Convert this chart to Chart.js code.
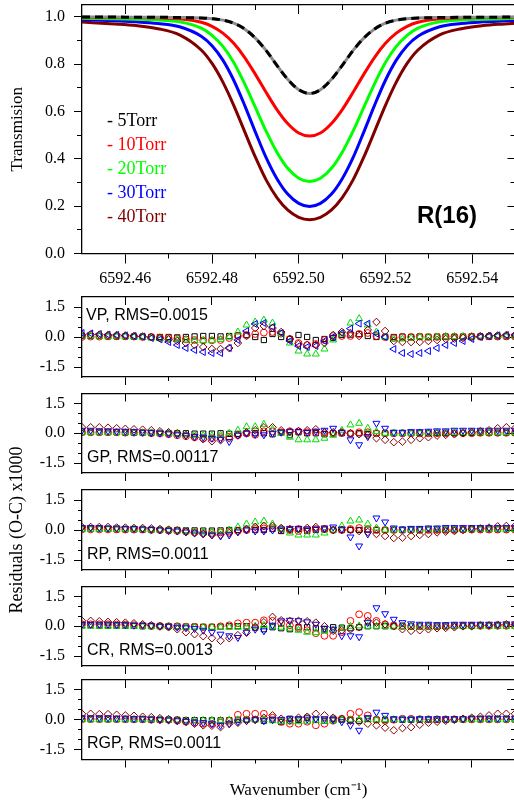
<!DOCTYPE html>
<html>
<head>
<meta charset="utf-8">
<script src="https://cdn.jsdelivr.net/npm/chart.js@4.4.1/dist/chart.umd.min.js"></script>
<style>
  html, body { margin: 0; padding: 0; background: #fff; overflow: hidden; }
  #wrap { position: relative; width: 514px; height: 801px; overflow: hidden; background: #fff; }
  #wrap canvas { position: absolute; left: 0; top: 0; }
</style>
</head>
<body>
<div id="wrap">
  <canvas id="spec" width="520" height="801"></canvas>
  <canvas id="vp" width="520" height="801"></canvas>
  <canvas id="gp" width="520" height="801"></canvas>
  <canvas id="rp" width="520" height="801"></canvas>
  <canvas id="cr" width="520" height="801"></canvas>
  <canvas id="rgp" width="520" height="801"></canvas>
</div>
<script>
// ---- transmission spectra, R(16) line ----
const nuCurve = [6592.4500, 6592.4575, 6592.4625, 6592.4675, 6592.4725, 6592.4775, 6592.4800,
  6592.4825, 6592.4850, 6592.4875, 6592.4900, 6592.4925, 6592.4950, 6592.4975, 6592.5000,
  6592.5025, 6592.5050, 6592.5075, 6592.5100, 6592.5125, 6592.5150, 6592.5175, 6592.5200,
  6592.5225, 6592.5250, 6592.5275, 6592.5325, 6592.5375, 6592.5425, 6592.5475, 6592.5500];
const trans5 = [0.999, 0.999, 0.998, 0.998, 0.997, 0.995, 0.992, 0.986, 0.973, 0.949, 0.910,
  0.857, 0.794, 0.735, 0.692, 0.676, 0.692, 0.735, 0.794, 0.857, 0.910, 0.949, 0.973, 0.986,
  0.992, 0.995, 0.997, 0.998, 0.998, 0.999, 0.999];
const trans10 = [0.998, 0.997, 0.997, 0.996, 0.992, 0.977, 0.960, 0.931, 0.888, 0.829, 0.757,
  0.680, 0.607, 0.548, 0.509, 0.496, 0.509, 0.548, 0.607, 0.680, 0.757, 0.829, 0.888, 0.931,
  0.960, 0.977, 0.992, 0.996, 0.997, 0.997, 0.998];
const trans20 = [0.994, 0.992, 0.990, 0.987, 0.979, 0.952, 0.922, 0.875, 0.807, 0.718, 0.617,
  0.516, 0.427, 0.359, 0.318, 0.304, 0.318, 0.359, 0.427, 0.516, 0.617, 0.718, 0.807, 0.875,
  0.922, 0.952, 0.979, 0.987, 0.990, 0.992, 0.993];
const trans30 = [0.988, 0.983, 0.979, 0.972, 0.958, 0.918, 0.878, 0.817, 0.732, 0.627, 0.513,
  0.404, 0.315, 0.250, 0.212, 0.199, 0.212, 0.250, 0.315, 0.404, 0.513, 0.627, 0.732, 0.817,
  0.878, 0.918, 0.958, 0.972, 0.979, 0.983, 0.985];
const trans40 = [0.978, 0.970, 0.963, 0.950, 0.924, 0.860, 0.803, 0.724, 0.626, 0.516, 0.407,
  0.310, 0.235, 0.183, 0.153, 0.143, 0.153, 0.183, 0.235, 0.310, 0.407, 0.516, 0.626, 0.724,
  0.803, 0.860, 0.924, 0.950, 0.963, 0.970, 0.973];
const pressures = ['- 5Torr', '- 10Torr', '- 20Torr', '- 30Torr', '- 40Torr'];
const lineColors = ['#000000', '#ff0000', '#00ff00', '#0000ff', '#800000'];

// ---- residuals (O-C) x1000, sampled every 0.002 cm-1 ----
const nuRes = [6592.450, 6592.452, 6592.454, 6592.456, 6592.458, 6592.460, 6592.462, 6592.464,
  6592.466, 6592.468, 6592.470, 6592.472, 6592.474, 6592.476, 6592.478, 6592.480, 6592.482,
  6592.484, 6592.486, 6592.488, 6592.490, 6592.492, 6592.494, 6592.496, 6592.498, 6592.500,
  6592.502, 6592.504, 6592.506, 6592.508, 6592.510, 6592.512, 6592.514, 6592.516, 6592.518,
  6592.520, 6592.522, 6592.524, 6592.526, 6592.528, 6592.530, 6592.532, 6592.534, 6592.536,
  6592.538, 6592.540, 6592.542, 6592.544, 6592.546, 6592.548, 6592.550];

const vp5 = [0.05, 0.05, 0.05, 0.03, 0.03, 0.03, 0.02, 0.02, 0.00, 0.00, 0.00,
  -0.02, 0.00, 0.03, 0.05, 0.05, 0.03, 0.05, 0.08, 0.10, 0.00,
  -0.15, 0.15, 0.00, -0.10, 0.10, 0.00, -0.15, -0.10, -0.05, 0.10,
  0.12, 0.15, 0.05, 0.00, 0.00, 0.00, 0.02, 0.00, 0.02, 0.00,
  0.02, 0.02, 0.00, 0.02, 0.03, 0.03, 0.02, 0.03, 0.03, 0.03];
const vp10 = [0.00, 0.02, 0.02, 0.03, 0.03, 0.03, 0.02, 0.00, 0.00, -0.03, -0.05,
  -0.08, -0.12, -0.15, -0.17, -0.17, -0.15, -0.05, 0.05, 0.10, 0.15,
  0.22, 0.25, 0.17, -0.10, -0.30, -0.40, -0.35, -0.15, 0.05, 0.05,
  0.05, 0.15, 0.20, 0.05, 0.00, -0.05, 0.00, 0.00, 0.02, 0.00,
  0.00, 0.02, 0.02, 0.00, 0.02, 0.02, 0.03, 0.02, 0.03, 0.03];
const vp20 = [0.05, 0.05, 0.04, 0.03, 0.03, 0.02, 0.00, -0.02, -0.05, -0.08, -0.10,
  -0.12, -0.15, -0.17, -0.18, -0.17, -0.12, 0.00, 0.25, 0.60, 0.75,
  0.85, 0.70, 0.15, -0.30, -0.70, -0.85, -0.85, -0.60, -0.15, 0.15,
  0.70, 0.92, 0.60, 0.25, 0.00, -0.10, -0.10, -0.05, 0.00, 0.00,
  0.00, 0.02, 0.02, 0.03, 0.03, 0.05, 0.05, 0.05, 0.05, 0.05];
const vp30 = [0.20, 0.18, 0.15, 0.12, 0.10, 0.08, 0.05, 0.02, -0.05, -0.12, -0.25,
  -0.40, -0.55, -0.65, -0.75, -0.80, -0.80, -0.55, -0.15, 0.30, 0.65,
  0.70, 0.50, 0.20, -0.20, -0.45, -0.50, -0.45, -0.20, 0.00, 0.20,
  0.42, 0.67, 0.67, 0.17, 0.00, -0.60, -0.80, -0.85, -0.80, -0.70,
  -0.55, -0.40, -0.30, -0.20, -0.10, 0.00, 0.05, 0.08, 0.10, 0.12];
const vp40 = [0.10, 0.12, 0.12, 0.10, 0.10, 0.08, 0.05, 0.03, 0.00, -0.05, -0.12,
  -0.20, -0.30, -0.40, -0.50, -0.60, -0.60, -0.55, -0.30, 0.05, 0.45,
  0.55, 0.45, 0.25, -0.10, -0.35, -0.40, -0.40, -0.30, 0.10, 0.25,
  0.20, 0.05, 0.35, 0.75, 0.30, -0.20, -0.25, -0.25, -0.25, -0.20,
  -0.15, -0.10, -0.08, -0.05, 0.00, 0.03, 0.05, 0.08, 0.10, 0.10];

const gp5 = [0.05, 0.05, 0.05, 0.05, 0.05, 0.03, 0.03, 0.03, 0.02, 0.00, 0.00,
  0.00, 0.00, -0.02, -0.02, -0.02, 0.00, -0.03, -0.03, 0.00, 0.00,
  0.00, -0.05, 0.05, -0.10, 0.05, 0.00, 0.00, -0.05, 0.00, 0.00,
  -0.02, 0.00, -0.05, 0.00, 0.00, 0.00, 0.00, 0.00, 0.00, 0.00,
  0.02, 0.02, 0.02, 0.02, 0.02, 0.03, 0.03, 0.03, 0.03, 0.03];
const gp10 = [0.05, 0.05, 0.05, 0.05, 0.05, 0.03, 0.03, 0.03, 0.00, 0.00, -0.05,
  -0.10, -0.15, -0.20, -0.25, -0.25, -0.20, -0.17, -0.10, 0.00, -0.08,
  0.10, 0.10, 0.05, 0.10, 0.10, 0.05, 0.05, 0.00, 0.00, 0.02,
  0.00, 0.05, 0.05, 0.00, 0.00, 0.00, 0.00, 0.00, 0.00, 0.00,
  0.00, 0.00, 0.00, 0.00, 0.00, 0.02, 0.02, 0.02, 0.02, 0.02];
const gp20 = [0.05, 0.05, 0.05, 0.04, 0.04, 0.03, 0.03, 0.02, 0.02, 0.00, 0.00,
  -0.05, -0.08, -0.10, -0.12, -0.12, -0.10, 0.00, 0.15, 0.33, 0.33,
  0.45, 0.20, 0.00, -0.20, -0.33, -0.33, -0.33, -0.25, -0.10, 0.15,
  0.42, 0.50, 0.25, 0.08, 0.00, 0.00, 0.00, 0.00, 0.02, 0.02,
  0.02, 0.02, 0.02, 0.03, 0.03, 0.03, 0.03, 0.03, 0.03, 0.03];
const gp30 = [0.15, 0.15, 0.12, 0.12, 0.10, 0.10, 0.08, 0.05, 0.03, 0.00, -0.03,
  -0.08, -0.12, -0.17, -0.20, -0.25, -0.30, -0.42, -0.10, 0.00, -0.05,
  -0.08, 0.00, 0.05, 0.08, 0.08, 0.05, 0.10, 0.15, 0.25, 0.05,
  -0.33, -0.58, -0.17, 0.50, 0.25, 0.05, 0.05, 0.08, 0.08, 0.10,
  0.12, 0.12, 0.15, 0.15, 0.15, 0.15, 0.15, 0.15, 0.15, 0.15];
const gp40 = [0.30, 0.30, 0.30, 0.28, 0.25, 0.22, 0.20, 0.18, 0.15, 0.10, 0.05,
  0.00, -0.10, -0.20, -0.30, -0.40, -0.35, -0.25, -0.10, 0.05, 0.15,
  0.30, 0.30, 0.15, 0.08, 0.10, 0.15, 0.20, 0.05, 0.05, 0.05,
  0.00, -0.05, -0.10, -0.25, -0.33, -0.45, -0.42, -0.33, -0.25, -0.20,
  -0.12, -0.08, -0.05, 0.00, 0.05, 0.10, 0.15, 0.25, 0.30, 0.25];

const rp5 = [0.05, 0.05, 0.05, 0.05, 0.03, 0.03, 0.03, 0.02, 0.02, 0.00, 0.00,
  0.00, -0.02, -0.02, -0.03, -0.03, -0.02, 0.00, 0.00, 0.02, 0.00,
  0.00, 0.05, -0.05, 0.00, 0.05, -0.05, 0.00, 0.02, 0.00, 0.00,
  0.00, 0.00, 0.02, 0.00, 0.00, 0.00, 0.00, 0.00, 0.00, 0.02,
  0.02, 0.02, 0.02, 0.02, 0.03, 0.03, 0.03, 0.03, 0.03, 0.03];
const rp10 = [0.03, 0.03, 0.03, 0.03, 0.03, 0.02, 0.02, 0.02, 0.00, 0.00, -0.03,
  -0.05, -0.08, -0.12, -0.15, -0.15, -0.12, -0.08, -0.05, 0.00, 0.05,
  0.08, 0.10, 0.05, 0.00, -0.05, 0.00, 0.05, 0.05, 0.00, 0.00,
  0.05, 0.10, 0.05, 0.00, 0.00, 0.00, 0.00, 0.00, 0.00, 0.00,
  0.00, 0.00, 0.00, 0.02, 0.02, 0.02, 0.02, 0.02, 0.02, 0.02];
const rp20 = [0.03, 0.03, 0.03, 0.03, 0.03, 0.02, 0.02, 0.02, 0.00, 0.00, 0.00,
  -0.03, -0.05, -0.08, -0.10, -0.10, -0.08, 0.00, 0.15, 0.30, 0.40,
  0.45, 0.30, 0.05, -0.15, -0.25, -0.25, -0.25, -0.15, 0.00, 0.20,
  0.45, 0.50, 0.30, 0.10, 0.00, 0.00, 0.00, 0.00, 0.00, 0.02,
  0.02, 0.02, 0.02, 0.02, 0.03, 0.03, 0.03, 0.03, 0.03, 0.03];
const rp30 = [0.12, 0.12, 0.12, 0.10, 0.10, 0.08, 0.08, 0.05, 0.03, 0.00, -0.03,
  -0.05, -0.10, -0.15, -0.20, -0.25, -0.30, -0.25, -0.10, 0.00, -0.05,
  -0.05, 0.00, 0.05, 0.08, 0.08, 0.05, 0.05, 0.10, 0.15, 0.05,
  -0.35, -0.80, -0.20, 0.60, 0.40, 0.10, 0.05, 0.08, 0.08, 0.10,
  0.10, 0.12, 0.12, 0.12, 0.12, 0.12, 0.12, 0.12, 0.12, 0.12];
const rp40 = [0.15, 0.15, 0.15, 0.15, 0.12, 0.12, 0.10, 0.10, 0.08, 0.05, 0.02,
  -0.02, -0.08, -0.15, -0.20, -0.25, -0.25, -0.15, -0.05, 0.05, 0.15,
  0.20, 0.20, 0.10, 0.05, 0.05, 0.10, 0.15, 0.05, 0.00, 0.00,
  0.00, -0.05, -0.10, -0.20, -0.30, -0.40, -0.38, -0.30, -0.25, -0.20,
  -0.12, -0.08, -0.05, 0.00, 0.05, 0.08, 0.12, 0.18, 0.20, 0.20];

const cr5 = [0.05, 0.05, 0.03, 0.03, 0.03, 0.02, 0.02, 0.00, 0.00, 0.00, 0.00,
  0.00, -0.02, -0.02, -0.03, -0.03, -0.02, 0.00, 0.00, 0.00, -0.07,
  -0.15, -0.05, -0.10, -0.15, -0.05, -0.05, -0.10, -0.15, -0.05, -0.07,
  -0.10, -0.05, 0.00, 0.00, 0.00, 0.00, 0.00, 0.00, 0.00, 0.00,
  0.00, 0.02, 0.02, 0.02, 0.02, 0.02, 0.02, 0.02, 0.02, 0.02];
const cr10 = [0.10, 0.10, 0.10, 0.10, 0.08, 0.08, 0.05, 0.05, 0.03, 0.02, 0.00,
  0.00, -0.02, -0.03, -0.05, -0.05, 0.00, 0.05, 0.15, 0.18, 0.18,
  0.30, 0.27, 0.15, 0.05, -0.10, -0.20, -0.35, -0.48, -0.48, -0.30,
  0.27, 0.60, 0.52, 0.27, 0.10, 0.05, 0.02, 0.00, 0.00, 0.00,
  0.00, 0.00, 0.02, 0.02, 0.02, 0.02, 0.02, 0.02, 0.02, 0.02];
const cr20 = [0.00, 0.00, 0.00, 0.00, 0.00, 0.00, 0.00, 0.00, 0.00, 0.00, 0.00,
  -0.02, -0.05, -0.05, -0.05, -0.05, -0.05, -0.05, -0.05, -0.03, 0.00,
  0.05, 0.00, -0.05, -0.10, -0.20, -0.30, -0.32, -0.25, -0.20, -0.10,
  0.00, 0.02, 0.00, 0.00, 0.00, 0.00, 0.00, 0.00, 0.00, 0.00,
  0.00, 0.00, 0.00, 0.00, 0.00, 0.00, 0.00, 0.00, 0.00, 0.00];
const cr30 = [0.10, 0.10, 0.10, 0.10, 0.08, 0.08, 0.05, 0.05, 0.03, 0.00, 0.00,
  -0.05, -0.08, -0.12, -0.20, -0.30, -0.40, -0.48, -0.57, -0.30, -0.15,
  -0.23, 0.05, 0.27, 0.30, 0.28, 0.22, 0.10, -0.10, -0.15, -0.48,
  -0.48, -0.53, 0.18, 0.93, 0.63, 0.35, 0.18, 0.12, 0.10, 0.10,
  0.08, 0.08, 0.10, 0.10, 0.10, 0.10, 0.10, 0.10, 0.12, 0.12];
const cr40 = [0.27, 0.27, 0.25, 0.22, 0.20, 0.18, 0.15, 0.10, 0.05, 0.00, -0.05,
  -0.15, -0.30, -0.40, -0.50, -0.60, -0.73, -0.60, -0.45, -0.32, -0.05,
  0.20, 0.47, 0.30, 0.27, 0.27, 0.25, 0.18, 0.00, -0.23, -0.20,
  -0.15, -0.05, 0.27, 0.18, 0.10, 0.00, -0.15, -0.23, -0.20, -0.15,
  -0.10, -0.08, -0.05, 0.00, 0.00, 0.05, 0.05, 0.08, 0.10, 0.10];

const rgp5 = [0.03, 0.03, 0.03, 0.03, 0.03, 0.02, 0.02, 0.02, 0.00, 0.00, 0.00,
  0.00, -0.02, -0.02, -0.02, -0.03, -0.03, -0.02, 0.00, 0.00, 0.02,
  -0.05, 0.00, -0.12, 0.05, 0.00, 0.10, 0.00, -0.05, 0.05, 0.00,
  0.00, -0.05, 0.05, 0.00, 0.00, 0.00, 0.00, 0.00, 0.00, 0.00,
  0.00, 0.00, 0.02, 0.02, 0.02, 0.02, 0.02, 0.02, 0.02, 0.02];
const rgp10 = [0.03, 0.03, 0.03, 0.03, 0.03, 0.03, 0.02, 0.02, 0.00, 0.00, 0.00,
  -0.05, -0.10, -0.15, -0.20, -0.20, -0.15, -0.05, 0.25, 0.30, 0.30,
  0.30, 0.10, -0.10, -0.20, -0.20, -0.10, -0.28, -0.20, -0.05, 0.05,
  0.30, 0.38, 0.22, 0.00, -0.05, 0.00, 0.05, 0.05, 0.03, 0.02,
  0.02, 0.02, 0.02, 0.02, 0.02, 0.02, 0.02, 0.02, 0.02, 0.02];
const rgp20 = [0.00, 0.00, 0.00, 0.00, 0.00, 0.00, 0.00, 0.00, 0.00, 0.00, 0.00,
  -0.02, -0.03, -0.03, -0.03, -0.03, -0.03, -0.02, 0.00, 0.00, 0.00,
  0.00, -0.05, -0.08, -0.10, -0.10, -0.08, -0.05, -0.08, -0.05, 0.00,
  0.00, 0.00, 0.00, 0.00, 0.00, 0.00, 0.00, 0.00, 0.00, 0.00,
  0.00, 0.00, 0.00, 0.00, 0.00, 0.00, 0.00, 0.00, 0.00, 0.00];
const rgp30 = [0.10, 0.10, 0.10, 0.10, 0.08, 0.08, 0.05, 0.05, 0.03, 0.00, -0.02,
  -0.05, -0.08, -0.12, -0.15, -0.20, -0.28, -0.20, -0.10, -0.05, 0.00,
  -0.05, 0.00, 0.02, 0.05, 0.05, 0.03, 0.05, 0.05, 0.00, -0.10,
  -0.28, -0.53, 0.10, 0.38, 0.22, 0.05, 0.03, 0.03, 0.05, 0.05,
  0.05, 0.05, 0.05, 0.05, 0.08, 0.08, 0.08, 0.08, 0.08, 0.08];
const rgp40 = [0.30, 0.30, 0.28, 0.28, 0.25, 0.22, 0.20, 0.15, 0.13, 0.08, 0.03,
  -0.02, -0.10, -0.20, -0.28, -0.30, -0.37, -0.20, -0.15, -0.05, 0.00,
  0.10, 0.22, 0.05, -0.05, 0.10, 0.15, 0.30, 0.22, 0.10, 0.05,
  -0.05, -0.10, -0.20, -0.28, -0.40, -0.53, -0.42, -0.37, -0.25, -0.15,
  -0.10, -0.05, 0.00, 0.05, 0.10, 0.15, 0.22, 0.30, 0.30, 0.30];

// ---- ticks ----
const xMajor = [6592.46, 6592.48, 6592.50, 6592.52, 6592.54];
const xMinor = [6592.47, 6592.49, 6592.51, 6592.53];
const tMajor = [0.0, 0.2, 0.4, 0.6, 0.8, 1.0];
const tMinor = [0.1, 0.3, 0.5, 0.7, 0.9];
const rMajor = [-1.5, 0.0, 1.5];
const rMinor = [-1.0, -0.5, 0.5, 1.0];

const SERIF = "'Liberation Serif', 'Times New Roman', serif";
const SANS = "'Liberation Sans', Arial, sans-serif";
Chart.defaults.font.family = SERIF;
Chart.defaults.font.size = 16;
Chart.defaults.color = '#000';

const W = 520, H = 801;
const RIGHT_PAD = W - 515.5;

// one axis side; the frame line comes from the major scale, minor ticks from a bare one
function axis(o) {
  return {
    type: 'linear',
    position: o.pos,
    min: o.min,
    max: o.max,
    weight: o.weight || 0,
    afterBuildTicks: s => { s.ticks = o.at.map(v => ({ value: v })); },
    afterFit: s => {
      if (s.isHorizontal()) s.height = o.size || 0; else s.width = o.size || 0;
      // plot area is placed by hand, labels must not push it around
      s.paddingTop = 0; s.paddingBottom = 0; s.paddingLeft = 0; s.paddingRight = 0;
    },
    grid: { drawOnChartArea: false, drawTicks: true, tickLength: o.len, tickColor: '#000', tickWidth: 1, color: '#000' },
    border: { display: !!o.frame, color: '#000', width: 1.3 },
    ticks: {
      display: !!o.fmt, autoSkip: false, maxRotation: 0, minRotation: 0,
      padding: o.pad || 0, color: '#000', font: { family: SERIF, size: 16 },
      callback: o.fmt || (() => ''),
    },
    title: o.title
      ? { display: true, text: o.title, color: '#000', font: { family: SERIF, size: o.titleSize }, padding: o.titlePad }
      : { display: false },
  };
}

const notes = {
  id: 'notes',
  afterDraw(chart, args, opts) {
    const { ctx, chartArea: a } = chart;
    ctx.save();
    ctx.textAlign = 'left';
    ctx.textBaseline = 'middle';
    (opts.items || []).forEach(t => {
      ctx.font = t.font;
      ctx.fillStyle = t.color || '#000';
      ctx.fillText(t.text, a.left + t.dx, t.bottom ? a.bottom - t.dy : a.top + t.dy);
    });
    ctx.restore();
  },
};

const fmt2 = v => v.toFixed(2);
const fmt1 = v => v.toFixed(1);

// ---- upper panel: transmission ----
const specSets = [trans5, trans10, trans20, trans30, trans40];
const specData = specSets.map(arr => nuCurve.map((x, i) => ({ x, y: arr[i] })));
const specDatasets = [
  { data: specData[0], borderColor: '#000', borderWidth: 3, borderDash: [8, 5] },
  { data: specData[0], borderColor: '#8c8c8c', borderWidth: 3 },
  { data: specData[1], borderColor: lineColors[1], borderWidth: 3 },
  { data: specData[2], borderColor: lineColors[2], borderWidth: 3 },
  { data: specData[3], borderColor: lineColors[3], borderWidth: 3 },
  { data: specData[4], borderColor: lineColors[4], borderWidth: 3 },
].map(d => Object.assign(d, { pointRadius: 0, fill: false, cubicInterpolationMode: 'monotone' }));

const X0 = 6592.45, X1 = 6592.55;
const SPEC_TOP = 5, SPEC_BOTTOM = 253.5, SPEC_XH = 40;

new Chart(document.getElementById('spec'), {
  type: 'line',
  data: { datasets: specDatasets },
  options: {
    responsive: false, animation: false, devicePixelRatio: 1, events: [],
    layout: { padding: { left: 0, right: RIGHT_PAD, top: SPEC_TOP, bottom: H - SPEC_BOTTOM - SPEC_XH } },
    plugins: {
      legend: { display: false }, tooltip: { enabled: false },
      notes: {
        items: pressures.map((p, i) => ({ text: p, color: lineColors[i], font: '18px ' + SERIF, dx: 25, dy: 116.7 + i * 23.9 }))
          .concat([{ text: 'R(16)', font: 'bold 24px ' + SANS, dx: 335, dy: 211.5 }]),
      },
    },
    scales: {
      x: axis({ pos: 'bottom', min: X0, max: X1, at: xMajor, len: 10, size: SPEC_XH, weight: 1, frame: true, fmt: fmt2, pad: 6 }),
      xm: axis({ pos: 'bottom', min: X0, max: X1, at: xMinor, len: 5 }),
      xt: axis({ pos: 'top', min: X0, max: X1, at: xMajor, len: -9, weight: 1, frame: true }),
      xtm: axis({ pos: 'top', min: X0, max: X1, at: xMinor, len: -5 }),
      y: axis({ pos: 'left', min: 0, max: 1.05, at: tMajor, len: 8, size: 82, weight: 1, frame: true, fmt: fmt1, pad: 9,
        title: 'Transmision', titleSize: 17, titlePad: { top: 7, bottom: 0 } }),
      ym: axis({ pos: 'left', min: 0, max: 1.05, at: tMinor, len: 5 }),
      yr: axis({ pos: 'right', min: 0, max: 1.05, at: tMajor, len: -8, weight: 1, frame: true }),
      yrm: axis({ pos: 'right', min: 0, max: 1.05, at: tMinor, len: -5 }),
    },
  },
  plugins: [notes],
});

// ---- residual panels ----
function markers(vals, color, style, rot, r) {
  return {
    data: nuRes.map((x, i) => ({ x, y: vals[i] })),
    showLine: false,
    borderColor: color,
    backgroundColor: 'rgba(0,0,0,0)',
    pointStyle: style,
    pointRotation: rot,
    pointRadius: r,
    pointBorderWidth: 1,
    pointBackgroundColor: 'rgba(0,0,0,0)',
    pointBorderColor: color,
  };
}

function residualPanel(id, top, bottom, sets, blueRot, label, extra) {
  const xh = extra.xTitle ? H - bottom : 0;
  const datasets = [
    markers(sets[4], '#800000', 'rectRot', 0, 3.8),
    markers(sets[3], '#0000ff', 'triangle', blueRot, 4),
    markers(sets[2], '#00dd00', 'triangle', 0, 4),
    markers(sets[1], '#ff0000', 'circle', 0, 3.4),
    markers(sets[0], '#000000', 'rect', 0, 3.7),
  ];
  new Chart(document.getElementById(id), {
    type: 'scatter',
    data: { datasets },
    options: {
      responsive: false, animation: false, devicePixelRatio: 1, events: [],
      layout: { padding: { left: 0, right: RIGHT_PAD, top: top, bottom: H - bottom - xh } },
      plugins: {
        legend: { display: false }, tooltip: { enabled: false },
        notes: { items: [Object.assign({ text: label, font: '16px ' + SANS }, extra.labelPos)] },
      },
      scales: {
        x: axis({ pos: 'bottom', min: X0, max: X1, at: xMajor, len: 8, size: xh, weight: 1, frame: true,
          title: extra.xTitle, titleSize: 17, titlePad: { top: 0, bottom: 0 } }),
        xm: axis({ pos: 'bottom', min: X0, max: X1, at: xMinor, len: 4 }),
        xt: axis({ pos: 'top', min: X0, max: X1, at: xMajor, len: -8, weight: 1, frame: true }),
        xtm: axis({ pos: 'top', min: X0, max: X1, at: xMinor, len: -4 }),
        y: axis({ pos: 'left', min: -2, max: 2, at: rMajor, len: 8, size: 82, weight: 1, frame: true, fmt: fmt1, pad: 9,
          title: extra.yTitle, titleSize: 18, titlePad: { top: 6, bottom: 0 } }),
        ym: axis({ pos: 'left', min: -2, max: 2, at: rMinor, len: 4 }),
        yr: axis({ pos: 'right', min: -2, max: 2, at: rMajor, len: -8, weight: 1, frame: true }),
        yrm: axis({ pos: 'right', min: -2, max: 2, at: rMinor, len: -4 }),
      },
    },
    plugins: [notes],
  });
}

const atBottom = { dx: 5, dy: 15.5, bottom: true };
residualPanel('vp', 297, 377, [vp5, vp10, vp20, vp30, vp40], 270, 'VP, RMS=0.0015', { labelPos: { dx: 4, dy: 19 } });
residualPanel('gp', 393.5, 473, [gp5, gp10, gp20, gp30, gp40], 180, 'GP, RMS=0.00117', { labelPos: atBottom });
residualPanel('rp', 490, 570, [rp5, rp10, rp20, rp30, rp40], 180, 'RP, RMS=0.0011',
  { labelPos: atBottom, yTitle: 'Residuals (O-C) x1000' });
residualPanel('cr', 586.5, 666, [cr5, cr10, cr20, cr30, cr40], 180, 'CR, RMS=0.0013', { labelPos: atBottom });
residualPanel('rgp', 680, 759.5, [rgp5, rgp10, rgp20, rgp30, rgp40], 180, 'RGP, RMS=0.0011',
  { labelPos: atBottom, xTitle: 'Wavenumber (cm\u207B\u00B9)' });
</script>
</body>
</html>
